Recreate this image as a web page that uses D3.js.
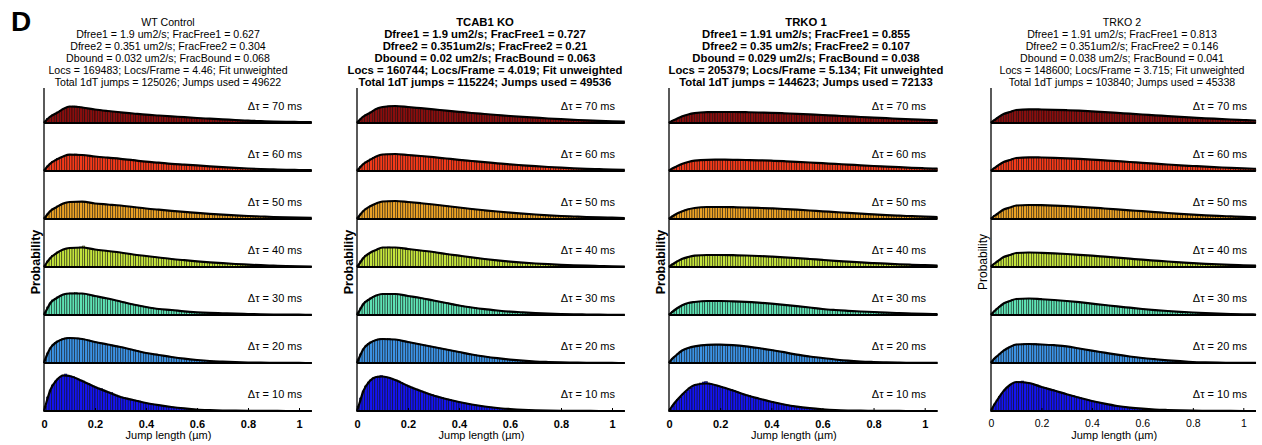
<!DOCTYPE html>
<html>
<head>
<meta charset="utf-8">
<script src="https://cdn.jsdelivr.net/npm/d3@7"></script>
<style>
  html, body { margin: 0; padding: 0; background: #fff; }
  svg { display: block; }
</style>
</head>
<body>
<svg id="chart" width="1262" height="445"></svg>
<script>
// ---- data (probability per 0.01 um bin, in per mille) ----
const lags = [10, 20, 30, 40, 50, 60, 70];
const lagColors = ["#1414f0", "#3c92e4", "#5ee2b4", "#c4e43c", "#eba226", "#f53a1a", "#8a0e0e"];
const binWidth = 0.01;
const xMax = 1.05;
const xTicks = [0, 0.2, 0.4, 0.6, 0.8, 1];
const fitX = [0, 0.01, 0.025, 0.05, 0.075, 0.1, 0.15, 0.2, 0.25, 0.3, 0.35, 0.4, 0.45, 0.5, 0.55, 0.6, 0.65, 0.7, 0.75, 0.8, 0.85, 0.9, 0.95, 1, 1.05];

const wtTitle = ["WT Control", "Dfree1 = 1.9 um2/s; FracFree1 = 0.627", "Dfree2 = 0.351 um2/s; FracFree2 = 0.304", "Dbound = 0.032 um2/s; FracBound = 0.068", "Locs = 169483; Locs/Frame = 4.46; Fit unweighted", "Total 1dT jumps = 125026; Jumps used = 49622"];
const tcTitle = ["TCAB1 KO", "Dfree1 = 1.9 um2/s; FracFree1 = 0.727", "Dfree2 = 0.351um2/s; FracFree2 = 0.21", "Dbound = 0.02 um2/s; FracBound = 0.063", "Locs = 160744; Locs/Frame = 4.019; Fit unweighted", "Total 1dT jumps = 115224; Jumps used = 49536"];
const k1Title = ["TRKO 1", "Dfree1 = 1.91 um2/s; FracFree1 = 0.855", "Dfree2 = 0.35 um2/s; FracFree2 = 0.107", "Dbound = 0.029 um2/s; FracBound = 0.038", "Locs = 205379; Locs/Frame = 5.134; Fit unweighted", "Total 1dT jumps = 144623; Jumps used = 72133"];
const k2Title = ["TRKO 2", "Dfree1 = 1.91 um2/s; FracFree1 = 0.813", "Dfree2 = 0.351um2/s; FracFree2 = 0.146", "Dbound = 0.038 um2/s; FracBound = 0.041", "Locs = 148600; Locs/Frame = 3.715; Fit unweighted", "Total 1dT jumps = 103840; Jumps used = 45338"];

// WT Control
const wt10 = [5,14,21,26,30, 32,34,36,37,36, 35,34.5,33,32,31, 30,28,27.5,26,25, 24,23,22.5,21,20, 19,18.5,17,16,15, 14,13.5,13,12,11.5, 11,10.5,10,9,8.5, 8,7.5,7,6.5,6, 5.8,5.4,5,4.6,4.3, 4,3.7,3.4,3.1,2.8, 2.6,2.3,2.1,1.9,1.7, 1.5,1.4,1.2,1.1,1, 0.9,0.8,0.7,0.6,0.55, 0.5,0.45,0.4,0.35,0.3, 0.3,0.25,0.2,0.2,0.15, 0.15,0.1,0.1,0.1,0.1, 0.1,0.05,0.05,0.05,0.05, 0.05,0.05,0.05,0.05,0, 0,0,0,0,0, 0,0,0,0,0];
const wt20 = [4,10,15,18,20.5, 22,23,24.5,25,25.5, 25,25,24.5,25,24, 24,23.5,23,22,21.5, 21,20.5,20,19.5,19, 18.5,18,17.5,17,16.5, 16,15.5,14.5,14,13.5, 13,12.5,11.5,11,10.5, 10,9.5,9,8.5,8.2, 8,7.5,7,6.7,6.3, 6,5.6,5.2,4.9,4.6, 4.3,4,3.7,3.4,3.2, 3,2.8,2.6,2.4,2.2, 2,1.9,1.7,1.6,1.5, 1.4,1.3,1.2,1.1,1, 0.9,0.8,0.7,0.6,0.55, 0.5,0.45,0.4,0.35,0.3, 0.3,0.25,0.25,0.2,0.2, 0.2,0.15,0.15,0.1,0.1, 0.1,0.1,0.1,0.05,0.05, 0.05,0.05,0.05,0.05,0.05];
const wt30 = [3,8,12,15,16.5, 18,19,20,21,21.5, 22,22,22.5,21.5,21.5, 21,20.5,20,19.5,19, 18.5,18,17.5,17,16.5, 16,15.5,15,14.5,14, 13.5,13,12,11.5,11, 10.5,10,9.5,9,8.5, 8,7.6,7.2,6.8,6.4, 6,5.8,5.6,5.4,5.2, 5,4.7,4.4,4.1,3.8, 3.6,3.4,3.2,3,2.8, 2.7,2.6,2.5,2.3,2.2, 2.1,2,1.9,1.8,1.7, 1.7,1.6,1.5,1.4,1.35, 1.3,1.2,1.15,1.1,1.05, 1,0.95,0.9,0.8,0.75, 0.7,0.65,0.6,0.55,0.5, 0.5,0.5,0.45,0.45,0.4, 0.4,0.4,0.35,0.35,0.3, 0.3,0.3,0.25,0.25,0.2];
const wt40 = [2,6,9,11.5,13, 15,16,17,18,18.5, 19,19,19.5,19.5,20, 21,19,18.5,18,17.5, 17.5,17,16.5,16.5,16, 16,15.5,15,15,14.5, 14.5,14,13.5,13,12.8, 12.5,12,11.8,11.5,11.2, 11,10.7,10.4,10.1,9.8, 9.5,9.2,8.9,8.6,8.3, 8,7.8,7.5,7.3,7, 6.8,6.6,6.4,6.1,5.9, 5.7,5.5,5.3,5.1,4.9, 4.7,4.5,4.3,4.1,3.9, 3.8,3.6,3.5,3.3,3.2, 3,2.9,2.8,2.6,2.5, 2.4,2.3,2.1,2,1.9, 1.8,1.7,1.6,1.5,1.45, 1.4,1.3,1.2,1.1,1.05, 1,0.95,0.9,0.8,0.75, 0.7,0.65,0.6,0.55,0.5];
const wt50 = [2,5,8,10,11.5, 13,14,15,16,16.5, 17,17,17.5,17.5,17.5, 17,16.5,16.5,16,15.5, 15.5,15,15,14.5,14.5, 14.5,14,14,13.5,13.5, 13.5,13,12.5,12.5,12, 12,11.5,11,11,10.5, 10.5,10,9.8,9.5,9.3, 9.3,9,8.8,8.5,8.3, 8.2,8,7.8,7.6,7.4, 7.2,7,6.8,6.5,6.3, 6.1,5.9,5.7,5.5,5.4, 5.2,5,4.9,4.7,4.5, 4.4,4.2,4.1,3.9,3.8, 3.7,3.5,3.4,3.3,3.1, 3,2.9,2.8,2.7,2.6, 2.5,2.4,2.3,2.2,2.1, 2,1.9,1.8,1.7,1.7, 1.6,1.5,1.5,1.4,1.35, 1.3,1.25,1.2,1.15,1.1];
const wt60 = [2,5,7.5,9.5,11, 12.5,13.5,14.5,15.5,16, 16.5,16.5,17,16.5,16.5, 16,15.5,15.5,15,14.8, 14.5,14.2,14,13.8,13.5, 13.3,13,12.8,12.6,12.4, 12.2,11.9,11.6,11.3,11, 10.8,10.5,10.2,9.9,9.6, 9.3,9.1,8.9,8.7,8.5, 8.3,8.1,7.9,7.6,7.4, 7.2,7,6.9,6.7,6.6, 6.4,6.2,6.1,5.9,5.8, 5.6,5.4,5.2,5,4.9, 4.7,4.5,4.4,4.2,4.1, 3.9,3.8,3.6,3.5,3.3, 3.2,3,2.9,2.8,2.6, 2.5,2.4,2.3,2.2,2.1, 2,1.9,1.8,1.75,1.7, 1.6,1.5,1.45,1.35,1.3, 1.2,1.15,1.1,1.05,1, 1,0.95,0.9,0.85,0.8];
const wt70 = [2,4.5,6.5,8,9.5, 11,12.5,14,15,16, 16.5,17,17,16.5,16, 15.5,15,14.5,14,13.8, 13.5,13.2,12.9,12.6,12.3, 12,11.7,11.5,11.2,11, 10.7,10.5,10.2,10,9.7, 9.5,9.3,9,8.8,8.5, 8.3,8.2,8,7.8,7.7, 7.5,7.3,7.2,7,6.8, 6.7,6.5,6.3,6.1,6, 5.8,5.6,5.5,5.3,5.2, 5,4.9,4.7,4.6,4.4, 4.3,4.2,4,3.9,3.7, 3.6,3.5,3.4,3.2,3.1, 3,2.9,2.7,2.6,2.4, 2.3,2.2,2.1,2,1.95, 1.9,1.8,1.7,1.65,1.55, 1.5,1.45,1.4,1.3,1.25, 1.2,1.15,1.1,1.05,1, 1,0.95,0.9,0.85,0.8];
const wtFit10 = [0,9,21,31,35.5,35,30,24,19,14,11,8,5.8,4,2.6,1.5,0.9,0.5,0.3,0.15,0.1,0.05,0,0,0];
const wtFit20 = [0,7,15,21,24,25,24,21,18.5,16,13,10,8,6,4.3,3,2,1.4,0.9,0.5,0.3,0.2,0.1,0.05,0];
const wtFit30 = [0,5,12,17,20.5,21.5,21.5,19,16.5,13.5,10.5,8,6,5,3.6,2.7,2.1,1.7,1.3,1,0.7,0.5,0.4,0.3,0.2];
const wtFit40 = [0,4,9,14,17.5,19,19.5,17.5,16,14.5,12.5,11,9.5,8,6.8,5.7,4.7,3.8,3,2.4,1.8,1.4,1,0.7,0.5];
const wtFit50 = [0,3.5,8,12,15.5,17,17.3,15.5,14.5,13.5,12,10.5,9.3,8.2,7.2,6.1,5.2,4.4,3.7,3,2.5,2,1.6,1.3,1.1];
const wtFit60 = [0,3.5,7.5,11.5,14.5,16.3,16,14.5,13.3,12.2,10.8,9.3,8.3,7.2,6.4,5.6,4.7,3.9,3.2,2.5,2,1.6,1.2,1,0.8];
const wtFit70 = [0,3,6.5,10,14,16.5,15.5,13.5,12,10.7,9.5,8.3,7.5,6.7,5.8,5,4.3,3.6,3,2.3,1.9,1.5,1.2,1,0.8];

// TCAB1 KO
const tc10 = [5,13,20,25,29, 31,33,34,35,35.5, 34.5,34,33.5,32.5,31.5, 31,30,28.5,27,26, 25,24,23,22,21, 20,19,18,17,16.5, 15.5,15,14,13.5,12.5, 12,11.5,10.5,10,9.5, 9,8.5,8,7.5,7, 6.5,6,5.7,5.3,4.9, 4.5,4.2,3.9,3.6,3.3, 3,2.8,2.6,2.4,2.2, 2,1.8,1.6,1.5,1.3, 1.2,1.1,1,0.9,0.8, 0.7,0.65,0.55,0.5,0.45, 0.4,0.35,0.3,0.25,0.2, 0.2,0.15,0.15,0.1,0.1, 0.1,0.1,0.05,0.05,0.05, 0.05,0.05,0.05,0,0, 0,0,0,0,0, 0,0,0,0,0];
const tc20 = [4,9,14,17,19.5, 21,22,23,24,24.5, 24.5,24,24.5,23.5,23.5, 23.5,23,22.5,22,21.5, 21,20.5,20,19.5,19, 18.5,18,17.5,17,16.5, 16,15.5,15,14.5,14, 13.5,13,12.5,12,11.5, 11,10.5,10,9.5,9, 8.5,8.1,7.7,7.3,6.9, 6.5,6.2,5.8,5.5,5.1, 4.8,4.5,4.2,3.9,3.6, 3.4,3.2,2.9,2.7,2.5, 2.3,2.1,1.9,1.8,1.6, 1.5,1.4,1.3,1.2,1.1, 1,0.9,0.8,0.7,0.65, 0.6,0.55,0.5,0.45,0.4, 0.4,0.35,0.3,0.25,0.2, 0.2,0.2,0.15,0.15,0.1, 0.1,0.1,0.1,0.05,0.05, 0.05,0.05,0.05,0.05,0.05];
const tc30 = [3,7,11,13.5,15.5, 17,18.5,19.5,20.5,21, 21,21.5,21.5,21,21, 21,20.5,20,19.5,19.5, 19,18.5,18,17.5,17.5, 17,16.5,16,15.5,15, 14.5,14,13.5,13,12.5, 12,11.5,11,10.5,10, 9.5,9.1,8.7,8.3,7.9, 7.5,7.2,6.8,6.5,6.1, 5.8,5.5,5.2,5,4.7, 4.5,4.3,4,3.8,3.6, 3.4,3.2,3,2.9,2.7, 2.6,2.4,2.3,2.2,2, 1.9,1.8,1.7,1.6,1.5, 1.4,1.3,1.2,1.15,1.05, 1,0.95,0.9,0.8,0.75, 0.7,0.65,0.6,0.55,0.5, 0.5,0.45,0.4,0.35,0.35, 0.3,0.3,0.25,0.25,0.2, 0.2,0.2,0.15,0.15,0.1];
const tc40 = [2,6,9,11.5,13, 14.5,16,17,18,19, 19.5,19.5,20,19.5,19.5, 19.5,19,19,18.5,18.5, 18,17.5,17.5,17,16.8, 16.5,16.2,15.9,15.6,15.3, 15,14.6,14.2,13.8,13.4, 13,12.7,12.3,12,11.6, 11.3,11,10.6,10.3,9.9, 9.6,9.3,9,8.6,8.3, 8,7.7,7.4,7.1,6.9, 6.6,6.4,6.1,5.9,5.6, 5.4,5.2,5,4.8,4.6, 4.4,4.2,4,3.9,3.7, 3.5,3.4,3.2,3.1,2.9, 2.8,2.7,2.6,2.4,2.3, 2.2,2.1,2,1.9,1.8, 1.7,1.6,1.5,1.45,1.35, 1.3,1.25,1.15,1.1,1.05, 1,0.95,0.85,0.8,0.75, 0.7,0.65,0.6,0.55,0.5];
const tc50 = [2,5,8,10,11.5, 13,14.5,15.5,16.5,17, 17.5,17.5,18,18,18, 18,17.8,17.6,17.4,17.2, 17,16.8,16.5,16.3,16, 15.8,15.5,15.3,15,14.8, 14.5,14.2,13.9,13.6,13.3, 13,12.7,12.4,12.1,11.8, 11.5,11.2,10.9,10.6,10.3, 10,9.7,9.5,9.2,8.9, 8.7,8.5,8.2,8,7.7, 7.5,7.3,7,6.8,6.6, 6.4,6.2,6,5.8,5.6, 5.4,5.2,5,4.8,4.7, 4.5,4.3,4.2,4,3.9, 3.7,3.6,3.4,3.3,3.1, 3,2.9,2.8,2.7,2.6, 2.5,2.4,2.3,2.2,2.1, 2,1.9,1.8,1.75,1.7, 1.6,1.55,1.5,1.4,1.35, 1.3,1.25,1.15,1.1,1.05];
const tc60 = [2,4.5,7,9,10.5, 12,13.5,14.5,15.5,16, 16.5,17,17,17,17, 17,16.8,16.6,16.4,16.2, 16,15.8,15.6,15.4,15.2, 15,14.8,14.5,14.2,14, 13.8,13.5,13.3,13,12.8, 12.5,12.2,12,11.7,11.5, 11.2,11,10.7,10.5,10.2, 10,9.8,9.5,9.3,9, 8.8,8.6,8.4,8.2,7.9, 7.7,7.5,7.3,7.1,6.8, 6.6,6.4,6.2,6,5.9, 5.7,5.5,5.3,5.1,5, 4.8,4.6,4.5,4.3,4.2, 4,3.9,3.7,3.6,3.4, 3.3,3.2,3.1,2.9,2.8, 2.7,2.6,2.5,2.4,2.3, 2.2,2.1,2,1.95,1.9, 1.8,1.7,1.65,1.55,1.5, 1.4,1.35,1.3,1.2,1.15];
const tc70 = [2,4,6.5,8,9.5, 11,12.5,14,15,15.5, 16,16.5,17,17,17, 17,16.8,16.6,16.4,16.2, 16,15.8,15.5,15.3,15, 14.8,14.5,14.3,14,13.8, 13.6,13.4,13.1,12.9,12.6, 12.4,12.2,11.9,11.7,11.4, 11.2,11,10.7,10.5,10.2, 10,9.8,9.6,9.4,9.2, 9,8.8,8.6,8.4,8.2, 8,7.8,7.6,7.4,7.2, 7,6.8,6.6,6.4,6.3, 6.1,5.9,5.8,5.6,5.5, 5.3,5.1,5,4.8,4.7, 4.5,4.4,4.2,4.1,3.9, 3.8,3.7,3.6,3.4,3.3, 3.2,3.1,2.9,2.8,2.7, 2.6,2.5,2.4,2.3,2.2, 2.1,2,1.95,1.85,1.8, 1.7,1.65,1.6,1.5,1.45];
const tcFit10 = [0,8,20,30,34,34.5,31,25,20,15.5,12,9,6.5,4.5,3,2,1.2,0.7,0.4,0.2,0.1,0.05,0,0,0];
const tcFit20 = [0,6,14,20,23,24,23.5,21,18.5,16,13.5,11,8.5,6.5,4.8,3.4,2.3,1.5,1,0.6,0.4,0.2,0.1,0.05,0];
const tcFit30 = [0,4.5,11,16,19.5,21,21,19,17,14.5,12,9.5,7.5,5.8,4.5,3.4,2.6,1.9,1.4,1,0.7,0.5,0.3,0.2,0.1];
const tcFit40 = [0,3.5,9,14,17,19.5,19.5,18,16.5,15,13,11.3,9.6,8,6.6,5.4,4.4,3.5,2.8,2.2,1.7,1.3,1,0.7,0.5];
const tcFit50 = [0,3.5,8,12.5,15.5,17.5,18,17,15.8,14.5,13,11.5,10,8.7,7.5,6.4,5.4,4.5,3.7,3,2.5,2,1.6,1.3,1];
const tcFit60 = [0,3,7,11,14.5,16.5,17,16,15,13.8,12.5,11.2,10,8.8,7.7,6.6,5.7,4.8,4,3.3,2.7,2.2,1.8,1.4,1.1];
const tcFit70 = [0,3,6.5,10,14,16,17,16,14.8,13.6,12.4,11.2,10,9,8,7,6.1,5.3,4.5,3.8,3.2,2.6,2.1,1.7,1.4];

// TRKO 1
const k1_10 = [2,5,8.5,11.5,14, 17,19,21,23,25, 26,27,28,29,29.5, 28,27,26.5,26,25, 24.5,23.5,22.5,22,21.5, 20.5,19.5,18.5,17.5,17, 16,15.5,14.5,13.8,13.2, 12.5,11.8,11,10.3,9.8, 9.3,8.7,8,7.5,7, 6.5,6,5.5,5.1,4.7, 4.3,4,3.7,3.4,3.1, 2.8,2.6,2.3,2.1,1.9, 1.7,1.5,1.3,1.2,1, 0.9,0.8,0.7,0.6,0.55, 0.5,0.45,0.4,0.35,0.3, 0.3,0.25,0.2,0.2,0.15, 0.15,0.1,0.1,0.1,0.05, 0.05,0.05,0.05,0.05,0.05, 0.05,0.05,0,0,0, 0,0,0,0,0, 0,0,0,0,0];
const k1_20 = [2,4.5,7,9,11, 13,14,15,15.5,16.3, 16.8,17.2,17.6,18,18.2, 18.2,18.8,18.3,18.3,18.3, 18.3,18.2,18.1,18,17.9, 17.8,17.6,17.4,17.2,17, 16.7,16.4,16,15.7,15.3, 15,14.6,14.2,13.8,13.4, 13,12.6,12.1,11.7,11.2, 10.8,10.3,9.8,9.3,8.8, 8.3,8,7.6,7.2,6.9, 6.5,6.2,5.9,5.6,5.3, 5,4.7,4.4,4.1,3.8, 3.5,3.3,3,2.8,2.5, 2.3,2.1,2,1.8,1.6, 1.5,1.4,1.3,1.2,1.1, 1,0.9,0.8,0.75,0.7, 0.6,0.55,0.5,0.4,0.35, 0.3,0.3,0.25,0.25,0.2, 0.2,0.15,0.15,0.1,0.1, 0.1,0.05,0.05,0.05,0.05];
const k1_30 = [1.5,3.5,5.5,7,8.5, 10,11,11.8,12.5,12.8, 13.2,13.5,13.8,14,14, 14,14,14.3,14,14, 14,14,13.9,13.8,13.8, 13.7,13.6,13.5,13.4,13.3, 13.2,13,12.9,12.7,12.6, 12.4,12.2,12,11.8,11.6, 11.4,11.2,10.9,10.7,10.4, 10.2,9.9,9.7,9.4,9.2, 8.9,8.6,8.3,8,7.8, 7.5,7.2,6.9,6.6,6.3, 6,5.8,5.6,5.4,5.2, 5,4.8,4.7,4.5,4.4, 4.2,4.1,3.9,3.8,3.6, 3.5,3.4,3.3,3.2,3.1, 3,2.9,2.7,2.6,2.5, 2.4,2.3,2.2,2.1,2, 1.9,1.8,1.7,1.65,1.6, 1.5,1.4,1.35,1.25,1.2, 1.1,1.05,1,0.95,0.9];
const k1_40 = [1.5,3,4.5,6,7, 8.5,9.2,10,10.5,11, 11.3,11.5,11.7,11.8,12, 12,12,12.4,12,12, 12,12,11.9,11.9,11.8, 11.8,11.7,11.7,11.6,11.6, 11.5,11.4,11.3,11.2,11.1, 11,10.9,10.8,10.6,10.5, 10.4,10.3,10.1,10,9.8, 9.7,9.5,9.4,9.2,9.1, 8.9,8.7,8.5,8.4,8.2, 8,7.8,7.6,7.5,7.3, 7.1,6.9,6.7,6.6,6.4, 6.2,6,5.9,5.7,5.6, 5.4,5.2,5.1,4.9,4.8, 4.6,4.5,4.3,4.2,4, 3.9,3.8,3.7,3.5,3.4, 3.3,3.2,3,2.9,2.8, 2.7,2.6,2.5,2.4,2.3, 2.2,2.1,2,1.95,1.9, 1.8,1.75,1.7,1.6,1.55];
const k1_50 = [1.5,3,4.5,5.5,6.5, 8,9,9.7,10.3,10.7, 11,11.3,11.5,11.8,12, 12,12,12,12,12, 12,12,11.9,11.9,11.8, 11.8,11.7,11.7,11.6,11.6, 11.5,11.4,11.3,11.3,11.2, 11.1,11,10.9,10.8,10.7, 10.6,10.5,10.4,10.2,10.1, 10,9.9,9.7,9.6,9.4, 9.3,9.1,9,8.8,8.7, 8.5,8.3,8.2,8,7.9, 7.7,7.5,7.4,7.2,7.1, 6.9,6.7,6.6,6.4,6.3, 6.1,5.9,5.8,5.6,5.5, 5.3,5.2,5,4.9,4.7, 4.6,4.5,4.3,4.2,4, 3.9,3.8,3.7,3.5,3.4, 3.3,3.2,3.1,3,2.9, 2.8,2.7,2.6,2.5,2.4, 2.3,2.2,2.1,2,1.95];
const k1_60 = [1.5,2.5,4,5,6, 7.5,8.3,9,9.5,10, 10.3,10.6,10.8,11,11.2, 11.2,11.3,11.3,11.3,11.3, 11.3,11.3,11.3,11.2,11.2, 11.2,11.2,11.1,11.1,11, 11,10.9,10.9,10.8,10.8, 10.7,10.6,10.5,10.4,10.4, 10.3,10.2,10.1,10,9.9, 9.8,9.7,9.6,9.4,9.3, 9.2,9.1,8.9,8.8,8.6, 8.5,8.4,8.2,8.1,7.9, 7.8,7.7,7.5,7.4,7.2, 7.1,7,6.8,6.7,6.5, 6.4,6.3,6.1,6,5.8, 5.7,5.6,5.4,5.3,5.1, 5,4.9,4.8,4.6,4.5, 4.4,4.3,4.1,4,3.9, 3.8,3.7,3.6,3.4,3.3, 3.2,3.1,3,2.9,2.8, 2.7,2.6,2.5,2.4,2.35];
const k1_70 = [1,2.5,3.5,4.5,5.5, 7,7.8,8.5,9,9.5, 9.8,10.1,10.3,10.6,10.8, 10.8,10.9,10.9,11,11, 11,11,11,11,11, 11,11,10.9,10.9,10.8, 10.8,10.7,10.7,10.6,10.6, 10.5,10.4,10.4,10.3,10.3, 10.2,10.1,10,9.9,9.8, 9.7,9.6,9.5,9.4,9.3, 9.2,9.1,9,8.8,8.7, 8.6,8.5,8.4,8.2,8.1, 8,7.9,7.7,7.6,7.4, 7.3,7.2,7.1,6.9,6.8, 6.7,6.6,6.4,6.3,6.1, 6,5.9,5.8,5.6,5.5, 5.4,5.3,5.2,5,4.9, 4.8,4.7,4.6,4.4,4.3, 4.2,4.1,4,3.8,3.7, 3.6,3.5,3.4,3.3,3.2, 3.1,3,2.9,2.8,2.7];
const k1Fit10 = [0,4,9,16,22,26,27.5,24.5,20.5,16,12.5,9.3,6.5,4.3,2.8,1.7,0.9,0.5,0.3,0.15,0.1,0.05,0,0,0];
const k1Fit20 = [0,3.5,7,12.3,15,16.7,18.2,18.3,17.8,16.7,15,13,10.8,8.3,6.5,5,3.5,2.3,1.5,1,0.6,0.3,0.2,0.1,0.05];
const k1Fit30 = [0,2.5,5.5,9.5,12,13,14,14,13.7,13.2,12.4,11.4,10.2,8.9,7.5,6,5,4.2,3.5,3,2.4,1.9,1.5,1.1,0.9];
const k1Fit40 = [0,2,4.5,8,10,11.3,12,12,11.8,11.5,11,10.4,9.7,8.9,8,7.1,6.2,5.4,4.6,3.9,3.3,2.7,2.2,1.8,1.5];
const k1Fit50 = [0,2,4.5,7.5,9.7,11,12,12,11.8,11.5,11.1,10.6,10,9.3,8.5,7.7,6.9,6.1,5.3,4.6,3.9,3.3,2.8,2.3,1.9];
const k1Fit60 = [0,2,4,7,9,10.3,11.2,11.3,11.2,11,10.7,10.3,9.8,9.2,8.5,7.8,7.1,6.4,5.7,5,4.4,3.8,3.2,2.7,2.3];
const k1Fit70 = [0,1.8,3.5,6.5,8.5,9.8,10.8,11,11,10.8,10.5,10.2,9.7,9.2,8.6,8,7.3,6.7,6,5.4,4.8,4.2,3.6,3.1,2.6];

// TRKO 2
const k2_10 = [3,7,11,14.5,17.5, 21,23.5,25.5,27.5,28.5, 29,29.5,30,29,28.5, 28,27.5,26.5,26,25, 24,23.5,22.5,22,21.5, 20.5,19.5,19,18,17.5, 16.7,16,15.5,14.5,14, 13.2,12.5,11.8,11.2,10.6, 10,9.5,8.9,8.3,7.8, 7.3,6.8,6.3,5.8,5.4, 5,4.7,4.3,4,3.7, 3.4,3.2,2.9,2.7,2.5, 2.3,2.1,2,1.8,1.6, 1.5,1.4,1.3,1.2,1.1, 1,0.9,0.8,0.7,0.65, 0.6,0.5,0.45,0.4,0.35, 0.3,0.3,0.25,0.25,0.2, 0.2,0.2,0.15,0.15,0.1, 0.1,0.1,0.1,0.05,0.05, 0.05,0.05,0.05,0.05,0.05, 0,0,0,0,0];
const k2_20 = [2,4.5,7,9,11, 13,14.5,16,17,18, 18.5,18.8,19,19.5,19.2, 19,19,19.4,18.8,18.7, 18.5,18.4,18.2,18.1,17.9, 17.8,17.6,17.4,17.2,17, 16.7,16.3,15.8,15.4,14.9, 14.5,14,13.6,13.2,12.7, 12.3,11.9,11.5,11.1,10.7, 10.3,9.9,9.5,9.1,8.7, 8.3,8,7.6,7.2,6.9, 6.5,6.2,5.9,5.6,5.3, 5,4.8,4.5,4.3,4, 3.8,3.6,3.4,3.1,2.9, 2.7,2.5,2.3,2.1,1.9, 1.8,1.6,1.4,1.3,1.1, 1,0.9,0.8,0.75,0.7, 0.6,0.55,0.5,0.4,0.35, 0.3,0.3,0.25,0.25,0.2, 0.2,0.15,0.15,0.1,0.1, 0.1,0.05,0.05,0.05,0.05];
const k2_30 = [2,4,6.5,8.5,10, 12,13,14,15,15.5, 16,16.2,16.4,16.5,16.5, 16.5,16.4,16.2,16,15.9, 15.8,15.6,15.5,15.3,15.2, 15,14.8,14.6,14.4,14.2, 14,13.8,13.5,13.3,13, 12.8,12.5,12.2,12,11.7, 11.4,11.1,10.8,10.6,10.3, 10,9.7,9.4,9.2,8.9, 8.6,8.3,8.1,7.8,7.6, 7.3,7,6.8,6.5,6.3, 6,5.8,5.6,5.3,5.1, 4.9,4.7,4.5,4.4,4.2, 4,3.8,3.7,3.5,3.4, 3.2,3.1,2.9,2.8,2.6, 2.5,2.4,2.3,2.1,2, 1.9,1.8,1.7,1.6,1.5, 1.4,1.3,1.2,1.15,1.05, 1,0.95,0.9,0.8,0.75, 0.7,0.65,0.6,0.55,0.5];
const k2_40 = [2,3.5,5.5,7,8.5, 10,11,12,13,13.5, 14,14.2,14.4,14.5,14.5, 14.5,14.5,14.4,14.3,14.3, 14.2,14.1,14,13.9,13.8, 13.7,13.6,13.4,13.3,13.1, 13,12.8,12.7,12.5,12.4, 12.2,12,11.8,11.6,11.5, 11.3,11.1,10.9,10.7,10.5, 10.3,10.1,9.9,9.7,9.5, 9.3,9.1,8.9,8.7,8.5, 8.3,8.1,7.9,7.7,7.5, 7.3,7.1,6.9,6.8,6.6, 6.4,6.2,6,5.9,5.7, 5.5,5.3,5.2,5,4.9, 4.7,4.5,4.4,4.2,4.1, 3.9,3.8,3.6,3.5,3.3, 3.2,3.1,2.9,2.8,2.7, 2.6,2.5,2.4,2.3,2.2, 2.1,2,1.9,1.85,1.75, 1.7,1.6,1.5,1.45,1.35];
const k2_50 = [1.5,3.5,5,6.5,8, 9.5,10.5,11.5,12.5,13, 13.5,13.7,13.8,14,14, 14,14,14,13.9,13.9, 13.8,13.7,13.7,13.6,13.5, 13.4,13.3,13.2,13.1,13, 12.9,12.8,12.6,12.5,12.3, 12.2,12,11.9,11.7,11.6, 11.4,11.2,11,10.9,10.7, 10.5,10.3,10.1,10,9.8, 9.6,9.4,9.2,9.1,8.9, 8.7,8.5,8.3,8.2,8, 7.8,7.6,7.4,7.3,7.1, 6.9,6.7,6.5,6.4,6.2, 6,5.8,5.7,5.5,5.4, 5.2,5,4.9,4.7,4.6, 4.4,4.3,4.1,4,3.8, 3.7,3.6,3.5,3.3,3.2, 3.1,3,2.9,2.8,2.7, 2.6,2.5,2.4,2.3,2.2, 2.1,2,1.9,1.8,1.75];
const k2_60 = [1.5,3,5,6.5,7.5, 9,10,11,12,12.5, 13,13.2,13.4,13.6,13.7, 13.7,13.7,13.6,13.6,13.5, 13.5,13.4,13.4,13.3,13.3, 13.2,13.1,13,12.9,12.8, 12.7,12.6,12.5,12.4,12.2, 12.1,12,11.8,11.7,11.5, 11.4,11.2,11.1,10.9,10.8, 10.6,10.4,10.3,10.1,10, 9.8,9.6,9.5,9.3,9.2, 9,8.8,8.6,8.5,8.3, 8.1,7.9,7.8,7.6,7.5, 7.3,7.1,7,6.8,6.7, 6.5,6.3,6.2,6,5.9, 5.7,5.6,5.4,5.3,5.1, 5,4.9,4.7,4.6,4.4, 4.3,4.2,4,3.9,3.8, 3.7,3.6,3.4,3.3,3.2, 3.1,3,2.9,2.8,2.7, 2.6,2.5,2.4,2.3,2.2];
const k2_70 = [1.5,3,5,6.5,7.5, 9,10,11,12,12.5, 13,13.2,13.4,13.6,13.7, 13.7,13.7,13.6,13.6,13.5, 13.5,13.4,13.4,13.3,13.3, 13.2,13.1,13.1,13,12.9, 12.8,12.7,12.6,12.5,12.4, 12.3,12.2,12,11.9,11.7, 11.6,11.5,11.3,11.2,11, 10.9,10.7,10.6,10.4,10.3, 10.1,9.9,9.8,9.6,9.5, 9.3,9.1,9,8.8,8.7, 8.5,8.3,8.2,8,7.9, 7.7,7.5,7.4,7.2,7.1, 6.9,6.7,6.6,6.4,6.3, 6.1,6,5.8,5.7,5.5, 5.4,5.2,5.1,5,4.8, 4.7,4.6,4.4,4.3,4.2, 4.1,4,3.8,3.7,3.6, 3.5,3.4,3.3,3.2,3.1, 3,2.9,2.8,2.7,2.6];
const k2Fit10 = [0,5,11,20,26,29,28,24,20.5,16.7,13.2,10,7.3,5,3.4,2.3,1.5,1,0.6,0.3,0.2,0.1,0.05,0,0];
const k2Fit20 = [0,3.5,7,12.3,16,18.5,19,18.5,17.8,16.7,14.5,12.3,10.3,8.3,6.5,5,3.8,2.7,1.8,1,0.6,0.3,0.2,0.1,0.05];
const k2Fit30 = [0,3,6.5,11.5,14,16,16.5,15.8,15,14,12.8,11.4,10,8.6,7.3,6,4.9,4,3.2,2.5,1.9,1.4,1,0.7,0.5];
const k2Fit40 = [0,2.7,5.5,10,12,14,14.5,14.2,13.7,13,12.2,11.3,10.3,9.3,8.3,7.3,6.4,5.5,4.7,3.9,3.2,2.6,2.1,1.7,1.3];
const k2Fit50 = [0,2.5,5,9.5,11.5,13.5,14,13.8,13.4,12.9,12.2,11.4,10.5,9.6,8.7,7.8,6.9,6,5.2,4.4,3.7,3.1,2.6,2.1,1.7];
const k2Fit60 = [0,2.3,5,9,11,13,13.7,13.5,13.2,12.7,12.1,11.4,10.6,9.8,9,8.1,7.3,6.5,5.7,5,4.3,3.7,3.1,2.6,2.2];
const k2Fit70 = [0,2.3,5,9,11,13,13.7,13.5,13.2,12.8,12.3,11.6,10.9,10.1,9.3,8.5,7.7,6.9,6.1,5.4,4.7,4.1,3.5,3,2.5];

// ---- layout ----
const baseY = 411;      // baseline of the 10 ms row
const rowStep = 48;     // px between row baselines
const rowMax = 48;      // value at top of each row
const sans = "'Liberation Sans', Arial, sans-serif";

const panels = [
  { title: wtTitle, titleX: 168, x0: 44, pxUm: 255, bold: false, tickBold: true, labelEnd: 258,
    bars: [wt10, wt20, wt30, wt40, wt50, wt60, wt70],
    fits: [wtFit10, wtFit20, wtFit30, wtFit40, wtFit50, wtFit60, wtFit70] },
  { title: tcTitle, titleX: 485, x0: 357, pxUm: 255, bold: true, tickBold: true, labelEnd: 258,
    bars: [tc10, tc20, tc30, tc40, tc50, tc60, tc70],
    fits: [tcFit10, tcFit20, tcFit30, tcFit40, tcFit50, tcFit60, tcFit70] },
  { title: k1Title, titleX: 806, x0: 669, pxUm: 255.7, bold: true, tickBold: true, labelEnd: 257,
    bars: [k1_10, k1_20, k1_30, k1_40, k1_50, k1_60, k1_70],
    fits: [k1Fit10, k1Fit20, k1Fit30, k1Fit40, k1Fit50, k1Fit60, k1Fit70] },
  { title: k2Title, titleX: 1122, x0: 991, pxUm: 252.3, bold: false, tickBold: false, labelEnd: 256,
    bars: [k2_10, k2_20, k2_30, k2_40, k2_50, k2_60, k2_70],
    fits: [k2Fit10, k2Fit20, k2Fit30, k2Fit40, k2Fit50, k2Fit60, k2Fit70] }
];

const svg = d3.select("#chart");

svg.append("text")
  .attr("x", 11).attr("y", 31)
  .attr("font-family", sans).attr("font-weight", "bold").attr("font-size", 28)
  .text("D");

panels.forEach(p => {
  const x = d3.scaleLinear().domain([0, xMax]).range([p.x0, p.x0 + p.pxUm * xMax]);
  const g = svg.append("g");

  // title block
  g.append("g").selectAll("text").data(p.title).join("text")
    .attr("x", p.titleX)
    .attr("y", (d, i) => 26 + i * 12)
    .attr("text-anchor", "middle")
    .attr("font-family", sans)
    .attr("font-weight", p.bold ? "bold" : "normal")
    .attr("font-size", p.bold ? 11.3 : 10.6)
    .attr("fill", "#000")
    .text(d => d);

  const barW = x(binWidth) - x(0);

  p.bars.forEach((vals, k) => {
    const base = baseY - k * rowStep;
    const y = d3.scaleLinear().domain([0, rowMax]).range([base, base - rowStep]);
    const row = g.append("g");

    row.append("g").selectAll("rect")
      .data(vals.map((v, i) => ({ v, i })).filter(d => d.v > 0))
      .join("rect")
      .attr("x", d => x(d.i * binWidth))
      .attr("width", barW)
      .attr("y", d => y(d.v))
      .attr("height", d => base - y(d.v))
      .attr("fill", lagColors[k])
      .attr("stroke", "#000")
      .attr("stroke-width", 0.45);

    const line = d3.line()
      .x((d, i) => x(fitX[i]))
      .y(d => y(d))
      .curve(d3.curveMonotoneX);

    row.append("path")
      .datum(p.fits[k])
      .attr("d", line)
      .attr("fill", "none")
      .attr("stroke", "#000")
      .attr("stroke-width", 2.2);

    row.append("line")
      .attr("x1", x(0)).attr("x2", x(xMax))
      .attr("y1", base).attr("y2", base)
      .attr("stroke", "#000").attr("stroke-width", 2);

    row.append("text")
      .attr("x", p.x0 + p.labelEnd)
      .attr("y", base - 13.5)
      .attr("text-anchor", "end")
      .attr("font-family", sans)
      .attr("font-size", 11)
      .text(`\u0394\u03c4 = ${lags[k]} ms`);
  });

  // y axis line
  g.append("line")
    .attr("x1", x(0)).attr("x2", x(0))
    .attr("y1", 88).attr("y2", baseY + 1)
    .attr("stroke", "#000").attr("stroke-width", 1.3);

  // x axis
  const ax = g.append("g")
    .attr("transform", `translate(0,${baseY})`)
    .call(d3.axisBottom(x).tickValues(xTicks).tickSize(-3).tickPadding(9).tickFormat(d3.format("")));
  ax.select(".domain").remove();
  ax.selectAll(".tick line").attr("stroke", "#000");
  ax.selectAll(".tick text")
    .attr("font-family", sans)
    .attr("font-size", p.tickBold ? 11 : 10.5)
    .attr("font-weight", p.tickBold ? "bold" : "normal")
    .attr("fill", "#000");

  g.append("text")
    .attr("x", x(0.5) - 3)
    .attr("y", 439)
    .attr("text-anchor", "middle")
    .attr("font-family", sans)
    .attr("font-size", 11)
    .text("Jump length (\u00b5m)");

  g.append("text")
    .attr("transform", `translate(${p.x0 - 4},262) rotate(-90)`)
    .attr("text-anchor", "middle")
    .attr("font-family", sans)
    .attr("font-size", p.tickBold ? 12.5 : 12)
    .attr("font-weight", p.tickBold ? "bold" : "normal")
    .text("Probability");
});
</script>
</body>
</html>
